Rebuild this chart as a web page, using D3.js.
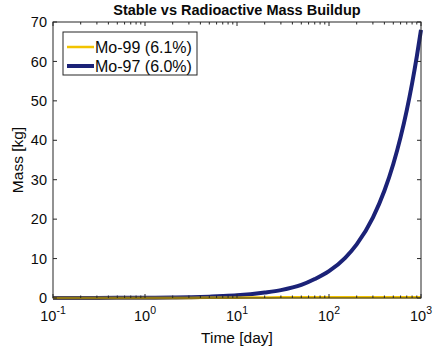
<!DOCTYPE html>
<html>
<head>
<meta charset="utf-8">
<script src="https://cdn.jsdelivr.net/npm/d3@7/dist/d3.min.js"></script>
<style>
  html, body { margin: 0; padding: 0; background: #fff; }
  svg { display: block; font-family: "Liberation Sans", Arial, Helvetica, sans-serif; }
</style>
</head>
<body>
<svg id="chart" width="434" height="351"></svg>
<script>
// Time samples in days (log-spaced)
const timeDays = [0.1, 0.2, 0.3, 0.5, 0.7, 1, 2, 3, 5, 7, 10, 20, 30, 50, 70, 100, 150, 200, 300, 400, 500, 600, 700, 800, 900, 1000];
// Accumulated Mo-97 (stable) mass, kg
const massMo97 = [0.007, 0.014, 0.02, 0.034, 0.048, 0.068, 0.14, 0.2, 0.34, 0.48, 0.68, 1.4, 2.0, 3.3, 4.8, 6.8, 10.2, 13.6, 20.4, 27.2, 34.0, 40.8, 47.6, 54.4, 61.2, 68.0];
// Mo-99 (radioactive) inventory, kg
const massMo99 = [0.001, 0.002, 0.003, 0.005, 0.007, 0.01, 0.02, 0.03, 0.05, 0.07, 0.09, 0.14, 0.17, 0.19, 0.2, 0.2, 0.2, 0.2, 0.2, 0.2, 0.2, 0.2, 0.2, 0.2, 0.2, 0.2];

const seriesNames = ["Mo-99 (6.1%)", "Mo-97 (6.0%)"];
const seriesColors = ["#f2c300", "#1b2277"];
const xTickExps = [-1, 0, 1, 2, 3];
const yTicks = [0, 10, 20, 30, 40, 50, 60, 70];

const svg = d3.select("#chart");
const m = { left: 53, right: 421, top: 22, bottom: 298 };

const x = d3.scaleLog().domain([0.1, 1000]).range([m.left, m.right]);
const y = d3.scaleLinear().domain([0, 70]).range([m.bottom, m.top]);

const axisColor = "#262626";
const textColor = "#0a0a0a";
const g = svg.append("g");

// Series lines
const line = vals => d3.line()
  .x((d, i) => x(timeDays[i]))
  .y(d => y(d))
  .curve(d3.curveMonotoneX)(vals);

g.append("path").attr("d", line(massMo97))
  .attr("fill", "none").attr("stroke", seriesColors[1]).attr("stroke-width", 4)
  .attr("stroke-linejoin", "round");
g.append("path").attr("d", line(massMo99))
  .attr("fill", "none").attr("stroke", seriesColors[0]).attr("stroke-width", 2.5);

// Box
g.append("rect").attr("x", m.left).attr("y", m.top)
  .attr("width", m.right - m.left).attr("height", m.bottom - m.top)
  .attr("fill", "none").attr("stroke", axisColor).attr("stroke-width", 1);

// Ticks (inward, on all four sides)
const tl = 4, tlMinor = 2.5;
yTicks.forEach(v => {
  g.append("line").attr("x1", m.left).attr("x2", m.left + tl).attr("y1", y(v)).attr("y2", y(v)).attr("stroke", axisColor);
  g.append("line").attr("x1", m.right).attr("x2", m.right - tl).attr("y1", y(v)).attr("y2", y(v)).attr("stroke", axisColor);
  g.append("text").attr("x", m.left - 6).attr("y", y(v)).attr("dy", "0.35em")
    .attr("text-anchor", "end").attr("font-size", 14.5).attr("fill", textColor).text(v);
});

const minorTicks = [];
for (let e = -1; e < 3; e++) for (let k = 2; k <= 9; k++) minorTicks.push(k * Math.pow(10, e));
minorTicks.forEach(t => {
  [[m.bottom, -1], [m.top, 1]].forEach(([yy, s]) => {
    g.append("line").attr("x1", x(t)).attr("x2", x(t)).attr("y1", yy).attr("y2", yy + s * tlMinor).attr("stroke", axisColor);
  });
});
xTickExps.forEach(e => {
  const t = Math.pow(10, e);
  [[m.bottom, -1], [m.top, 1]].forEach(([yy, s]) => {
    g.append("line").attr("x1", x(t)).attr("x2", x(t)).attr("y1", yy).attr("y2", yy + s * tl).attr("stroke", axisColor);
  });
  const txt = g.append("text").attr("x", x(t)).attr("y", 321)
    .attr("text-anchor", "middle").attr("font-size", 14.5).attr("fill", textColor);
  txt.append("tspan").text("10");
  txt.append("tspan").attr("dy", -7).attr("font-size", 10.5).text(e);
});

// Axis labels and title
svg.append("text").attr("x", (m.left + m.right) / 2).attr("y", 343)
  .attr("text-anchor", "middle").attr("font-size", 15.5).attr("fill", textColor).text("Time [day]");
svg.append("text").attr("transform", `translate(23,${(m.top + m.bottom) / 2}) rotate(-90)`)
  .attr("text-anchor", "middle").attr("font-size", 15.5).attr("fill", textColor).text("Mass [kg]");
svg.append("text").attr("x", (m.left + m.right) / 2).attr("y", 15)
  .attr("text-anchor", "middle").attr("font-size", 14.5).attr("font-weight", "bold").attr("fill", textColor)
  .text("Stable vs Radioactive Mass Buildup");

// Legend
const lg = svg.append("g").attr("transform", "translate(63,32)");
lg.append("rect").attr("width", 134).attr("height", 43)
  .attr("fill", "#fff").attr("stroke", axisColor).attr("stroke-width", 1);
seriesNames.forEach((name, i) => {
  const cy = 15 + i * 19;
  lg.append("line").attr("x1", 4).attr("x2", 31).attr("y1", cy).attr("y2", cy)
    .attr("stroke", seriesColors[i]).attr("stroke-width", i === 1 ? 4 : 2.5);
  lg.append("text").attr("x", 32).attr("y", cy).attr("dy", "0.36em")
    .attr("font-size", 16).attr("fill", textColor).text(name);
});
</script>
</body>
</html>
